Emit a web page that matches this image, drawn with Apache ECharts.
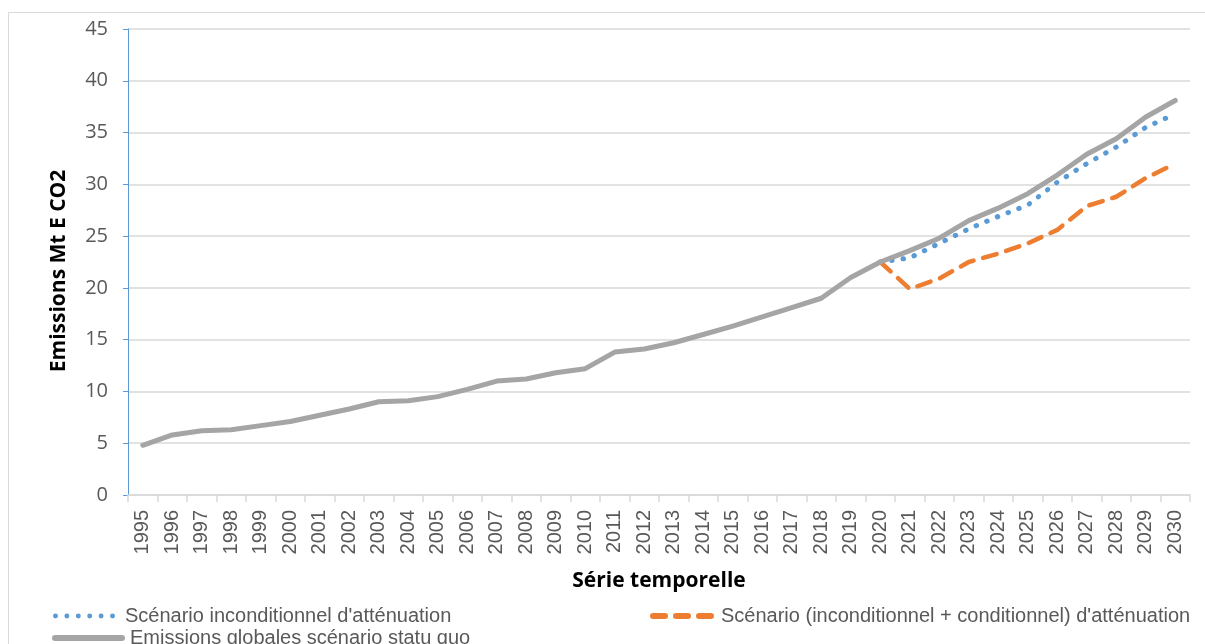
<!DOCTYPE html>
<html>
<head>
<meta charset="utf-8">
<script src="https://cdn.jsdelivr.net/npm/echarts@6/dist/echarts.min.js"></script>
<style>
  html, body { margin: 0; padding: 0; background: #fff; overflow: hidden; }
  #chart { width: 1205px; height: 644px; }
</style>
</head>
<body>
<div id="chart"></div>
<script>
// années
const years = ['1995','1996','1997','1998','1999','2000','2001','2002','2003','2004','2005','2006',
  '2007','2008','2009','2010','2011','2012','2013','2014','2015','2016','2017','2018',
  '2019','2020','2021','2022','2023','2024','2025','2026','2027','2028','2029','2030']

// Emissions globales scénario statu quo
const statuQuo = [4.8, 5.8, 6.2, 6.3, 6.7, 7.1, 7.7, 8.3, 9.0, 9.1, 9.5, 10.2,
  11.0, 11.2, 11.8, 12.2, 13.8, 14.1, 14.7, 15.5, 16.3, 17.2, 18.1, 19.0,
  21.0, 22.5, 23.6, 24.8, 26.5, 27.7, 29.1, 30.9, 32.9, 34.4, 36.5, 38.1]

// Scénario inconditionnel (à partir de 2020)
const inconditionnel = [null, null, null, null, null, null, null, null, null, null, null, null,
  null, null, null, null, null, null, null, null, null, null, null, null,
  null, 22.5, 22.9, 24.3, 25.7, 26.9, 28.0, 30.2, 32.0, 33.6, 35.5, 36.8]

// Scénario inconditionnel + conditionnel (à partir de 2020)
const conditionnel = [null, null, null, null, null, null, null, null, null, null, null, null,
  null, null, null, null, null, null, null, null, null, null, null, null,
  null, 22.5, 19.9, 20.9, 22.5, 23.3, 24.3, 25.6, 27.9, 28.8, 30.6, 32.0]

const nomInc = "Scénario inconditionnel d'atténuation"
const nomCond = "Scénario (inconditionnel + conditionnel) d'atténuation"
const nomStatu = 'Emissions globales scénario statu quo'

// icônes de légende (pointillé, tirets, trait plein)
let dots = ''
for (let i = 0; i < 6; i++) {
  const x = i * 11.5
  dots += 'M' + x + ',2.5a2.5,2.5 0 1,0 5,0a2.5,2.5 0 1,0 -5,0z'
}
const dashes = 'M3,0h12a3,3 0 0,1 0,6h-12a3,3 0 0,1 0,-6z' +
  'M26,0h12a3,3 0 0,1 0,6h-12a3,3 0 0,1 0,-6z' +
  'M49,0h12a3,3 0 0,1 0,6h-12a3,3 0 0,1 0,-6z'
const bar = 'M3,0h67a3,3 0 0,1 0,6h-67a3,3 0 0,1 0,-6z'

const chart = echarts.init(document.getElementById('chart'))

const legendText = { fontFamily: 'Liberation Sans', fontSize: 20, color: '#595959' }

chart.setOption({
  animation: false,
  // cadre : bords gauche et haut seulement
  graphic: [
    { type: 'line', silent: true, z: -10,
      shape: { x1: 8.5, y1: 12.5, x2: 1205, y2: 12.5 },
      style: { stroke: '#d9d9d9', lineWidth: 1 } },
    { type: 'line', silent: true, z: -10,
      shape: { x1: 8.5, y1: 12.5, x2: 8.5, y2: 644 },
      style: { stroke: '#d9d9d9', lineWidth: 1 } }
  ],
  grid: { left: 128, right: 15, top: 29, bottom: 149 },
  legend: [
    { left: 48, top: 601, itemWidth: 62, itemHeight: 5, textStyle: Object.assign({ padding: [0, 0, 0, 5] }, legendText),
      data: [{ name: nomInc, icon: 'path://' + dots }] },
    { left: 645, top: 601, itemWidth: 64, itemHeight: 6, textStyle: Object.assign({ padding: [0, 0, 0, 2] }, legendText),
      data: [{ name: nomCond, icon: 'path://' + dashes }] },
    { left: 47, top: 623, itemWidth: 73, itemHeight: 6, textStyle: legendText,
      data: [{ name: nomStatu, icon: 'path://' + bar }] }
  ],
  xAxis: {
    type: 'category',
    data: years,
    boundaryGap: true,
    name: 'Série temporelle',
    nameLocation: 'middle',
    nameGap: 76,
    nameTextStyle: { fontFamily: 'Open Sans', fontWeight: 'bold', fontSize: 21, color: '#000' },
    axisLine: { lineStyle: { color: '#d9d9d9', width: 1.5 } },
    axisTick: { show: true, length: 7, lineStyle: { color: '#d9d9d9', width: 1.5 } },
    axisLabel: { rotate: 90, interval: 0, margin: 15, fontFamily: 'Liberation Sans', fontSize: 20, color: '#595959' }
  },
  yAxis: {
    type: 'value',
    min: 0,
    max: 45,
    interval: 5,
    name: 'Emissions Mt E CO2',
    nameLocation: 'middle',
    nameGap: 58,
    nameTextStyle: { fontFamily: 'Open Sans', fontWeight: 'bold', fontSize: 21, color: '#000', padding: [0, 18, 0, 0] },
    axisLine: { show: true, lineStyle: { color: '#5b9bd5', width: 1 } },
    axisTick: { show: true, length: 5, lineStyle: { color: '#5b9bd5' } },
    axisLabel: { margin: 20, fontFamily: 'Open Sans', fontSize: 20, color: '#595959' },
    splitLine: { lineStyle: { color: '#d9d9d9', width: 1.5 } }
  },
  series: [
    {
      name: nomInc,
      type: 'line',
      data: inconditionnel,
      symbol: 'none',
      lineStyle: { color: '#5b9bd5', width: 5, type: [0.5, 11], cap: 'round' },
      itemStyle: { color: '#5b9bd5' },
      z: 2
    },
    {
      name: nomCond,
      type: 'line',
      data: conditionnel,
      symbol: 'none',
      lineStyle: { color: '#ed7d31', width: 4.5, type: [14, 10], cap: 'round' },
      itemStyle: { color: '#ed7d31' },
      z: 3
    },
    {
      name: nomStatu,
      type: 'line',
      data: statuQuo,
      symbol: 'none',
      lineStyle: { color: '#a5a5a5', width: 5, cap: 'round', join: 'round' },
      itemStyle: { color: '#a5a5a5' },
      z: 4
    }
  ]
})
</script>
</body>
</html>
